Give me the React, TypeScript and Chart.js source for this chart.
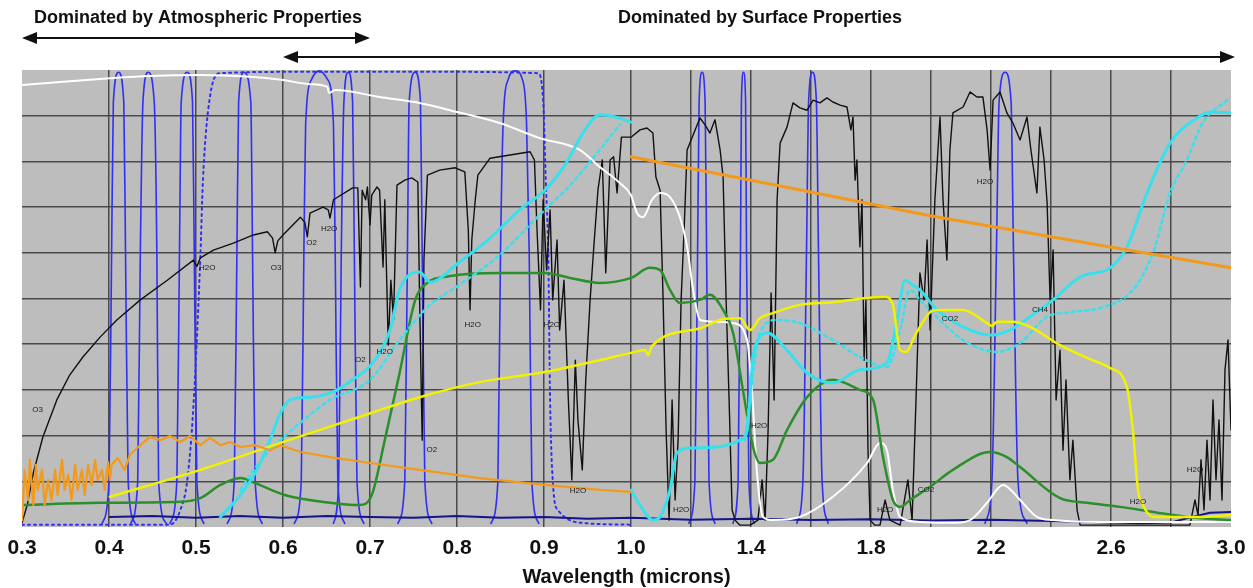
import React, { useEffect, useRef } from "react";
import { Chart, registerables } from "chart.js";
Chart.register(...registerables);

type P = [number, number];

// ---- axis definitions (wavelength, microns) ----
const gridWavelengths = [0.3, 0.4, 0.5, 0.6, 0.7, 0.8, 0.9, 1.0, 1.2, 1.4, 1.6, 1.8, 2.0, 2.2, 2.4, 2.6, 2.8, 3.0];
const labelWavelengths = [0.3, 0.4, 0.5, 0.6, 0.7, 0.8, 0.9, 1.0, 1.4, 1.8, 2.2, 2.6, 3.0];
const yGridValues = [0, 10, 20, 30, 40, 50, 60, 70, 80, 90, 100];
const xTitle = "Wavelength (microns)";
const topLabels = ["Dominated by Atmospheric Properties", "Dominated by Surface Properties"];
const topRanges: P[] = [[0.3, 0.7], [0.6, 3.0]];

// ---- series (wavelength, relative value 0-100) ----
const whiteCurve: P[] = [[0.300,96.7],[0.344,97.4],[0.401,98.2],[0.447,98.7],[0.505,98.9],[0.562,98.5],[0.600,97.8],[0.631,96.9],[0.651,96.3],[0.653,95.0],[0.660,95.6],[0.711,94.1],[0.757,92.8],[0.792,91.2],[0.849,88.4],[0.895,85.1],[0.941,82.5],[0.964,78.8],[0.987,75.3],[1.0,72.6],[1.020,68.7],[1.040,67.8],[1.070,71.6],[1.097,73.1],[1.130,72.2],[1.163,67.8],[1.187,61.3],[1.207,51.9],[1.230,45.3],[1.287,44.9],[1.340,44.6],[1.387,40.9],[1.403,30.0],[1.420,11.8],[1.440,2.2],[1.473,1.5],[1.563,2.2],[1.673,6.6],[1.787,14.0],[1.830,18.4],[1.853,16.8],[1.873,8.1],[1.897,2.2],[1.963,1.1],[2.073,0.9],[2.130,1.5],[2.187,5.3],[2.240,9.2],[2.297,5.9],[2.353,2.2],[2.407,1.5],[2.563,1.1],[3.0,1.1]];

const yellowCurve: P[] = [[0.401,6.6],[0.505,12.5],[0.597,18.4],[0.677,23.4],[0.757,28.4],[0.826,31.7],[0.901,33.9],[0.964,36.5],[1.0,38.1],[1.047,38.7],[1.057,37.6],[1.070,39.6],[1.230,43.5],[1.307,45.5],[1.363,45.7],[1.397,43.1],[1.430,45.7],[1.473,46.8],[1.563,48.6],[1.673,49.2],[1.787,50.1],[1.847,50.3],[1.873,48.6],[1.897,38.7],[1.917,38.3],[1.947,42.0],[1.997,47.0],[2.020,47.5],[2.107,47.5],[2.187,44.6],[2.203,44.0],[2.220,44.9],[2.273,44.9],[2.330,43.8],[2.430,39.8],[2.520,37.0],[2.597,34.8],[2.653,30.6],[2.673,21.2],[2.690,8.1],[2.703,5.3],[2.740,2.2],[2.807,2.2],[2.907,2.2],[2.997,2.6]];

const greenCurve: P[] = [[0.300,4.8],[0.390,5.3],[0.482,5.5],[0.505,6.3],[0.528,9.2],[0.551,10.7],[0.568,9.6],[0.602,7.0],[0.654,5.3],[0.688,4.8],[0.702,7.0],[0.717,19.0],[0.734,33.7],[0.752,49.7],[0.763,53.0],[0.792,54.9],[0.849,55.6],[0.901,55.6],[0.930,54.5],[0.964,53.4],[1.0,54.5],[1.063,56.7],[1.097,56.2],[1.130,51.9],[1.163,49.0],[1.230,49.7],[1.263,50.8],[1.307,47.5],[1.340,42.5],[1.373,30.0],[1.407,17.5],[1.430,14.0],[1.473,14.7],[1.520,21.2],[1.587,28.4],[1.673,32.2],[1.763,30.0],[1.807,27.8],[1.840,15.3],[1.873,5.9],[1.897,4.4],[1.930,5.9],[1.997,8.8],[2.073,12.5],[2.197,16.4],[2.253,15.3],[2.297,13.1],[2.430,6.3],[2.520,5.3],[2.630,4.4],[2.740,3.3],[2.853,2.2],[2.997,1.5]];

const cyanVis: P[] = [[0.528,2.2],[0.551,7.0],[0.570,12.5],[0.585,19.0],[0.597,24.9],[0.608,27.8],[0.631,28.4],[0.657,29.5],[0.680,32.2],[0.703,35.9],[0.723,43.1],[0.734,51.9],[0.757,55.8],[0.769,53.6],[0.803,58.0],[0.838,63.2],[0.872,69.4],[0.901,73.7],[0.924,79.2],[0.947,86.9],[0.964,90.2],[0.982,89.7],[1.0,88.6]];
const cyanIR: P[] = [[1.0,8.1],[1.030,4.8],[1.073,1.5],[1.097,2.2],[1.130,8.1],[1.153,16.2],[1.197,17.3],[1.287,17.5],[1.363,19.0],[1.387,21.2],[1.407,37.2],[1.430,41.6],[1.453,42.5],[1.520,38.7],[1.587,33.7],[1.673,31.5],[1.763,34.4],[1.853,35.9],[1.887,45.3],[1.913,54.0],[1.937,53.0],[1.963,51.9],[2.020,47.5],[2.107,43.8],[2.197,42.0],[2.263,43.1],[2.330,46.0],[2.407,49.7],[2.497,54.7],[2.597,56.7],[2.653,61.3],[2.720,73.1],[2.797,84.0],[2.887,89.5],[2.930,90.8],[3.0,90.6]];
const cyanDotVis: P[] = [[0.551,8.1],[0.568,12.9],[0.591,17.9],[0.620,22.8],[0.654,27.8],[0.700,32.2],[0.734,40.9],[0.769,48.6],[0.803,53.0],[0.849,59.5],[0.895,68.3],[0.930,74.8],[0.964,82.5],[0.987,88.0]];
const cyanDotIR: P[] = [[1.380,19.0],[1.407,33.7],[1.430,42.5],[1.487,45.3],[1.563,44.6],[1.673,40.9],[1.763,37.2],[1.853,35.0],[1.897,43.1],[1.930,51.9],[1.963,49.7],[2.107,40.9],[2.220,38.3],[2.297,40.3],[2.387,46.0],[2.463,47.0],[2.573,48.1],[2.673,51.9],[2.740,60.0],[2.797,73.1],[2.853,80.3],[2.907,88.6],[2.987,93.4]];

const orangeVis: P[] = [[0.300,1.5],[0.303,12.5],[0.307,5.9],[0.309,14.7],[0.313,4.8],[0.316,13.6],[0.318,8.1],[0.323,12.5],[0.326,4.8],[0.330,10.3],[0.334,5.9],[0.338,12.5],[0.341,7.0],[0.346,14.7],[0.349,8.1],[0.353,11.4],[0.357,5.9],[0.361,13.6],[0.364,8.1],[0.369,12.5],[0.372,7.0],[0.376,13.6],[0.380,9.2],[0.384,14.7],[0.387,10.3],[0.392,12.5],[0.395,8.1],[0.399,14.2],[0.401,10.3],[0.403,13.6],[0.410,15.1],[0.418,12.5],[0.424,15.8],[0.436,17.9],[0.447,19.7],[0.459,19.0],[0.470,19.9],[0.482,18.6],[0.493,19.9],[0.505,17.9],[0.516,19.5],[0.528,17.9],[0.539,18.6],[0.551,17.5],[0.568,17.9],[0.585,16.8],[0.597,17.9],[0.620,16.4],[0.654,15.3],[0.700,14.0],[0.757,12.5],[0.826,10.7],[0.901,9.2],[0.964,8.1],[1.0,7.7]];
const orangeIR: P[] = [[1.0,81.0],[1.497,74.6],[1.997,68.1],[2.497,62.4],[3.0,56.7]];

const navyCurve: P[] = [[0.401,2.2],[0.45,2.4],[0.5,2.0],[0.55,2.4],[0.6,2.0],[0.65,2.4],[0.7,2.2],[0.75,2.0],[0.8,2.4],[0.85,2.0],[0.9,2.2],[0.95,1.8],[1.0,2.0],[1.2,1.6],[1.4,1.8],[1.6,1.5],[1.8,1.7],[2.0,1.4],[2.2,1.6],[2.4,1.3],[2.6,1.0],[2.7,0.8],[2.8,1.0],[2.87,2.2],[2.93,3.1],[3.0,3.3]];

const blackCurve: P[] = [[0.300,0.9],[0.306,4.8],[0.313,11.8],[0.324,19.7],[0.340,27.8],[0.355,33.3],[0.370,37.2],[0.390,41.6],[0.409,45.3],[0.436,49.7],[0.467,54.0],[0.497,58.4],[0.501,57.0],[0.505,58.9],[0.520,60.6],[0.543,62.1],[0.566,63.9],[0.582,64.6],[0.588,63.2],[0.591,60.0],[0.594,62.6],[0.600,63.9],[0.620,67.8],[0.625,66.7],[0.628,63.5],[0.631,68.7],[0.646,70.0],[0.652,69.4],[0.654,67.6],[0.658,71.6],[0.680,74.2],[0.686,74.2],[0.689,52.5],[0.691,73.7],[0.695,71.6],[0.697,74.4],[0.700,66.1],[0.702,72.6],[0.708,74.4],[0.711,73.7],[0.715,56.9],[0.717,71.6],[0.721,39.8],[0.724,54.0],[0.727,45.3],[0.731,74.8],[0.740,75.9],[0.748,76.4],[0.755,75.5],[0.757,49.7],[0.760,19.0],[0.762,58.4],[0.766,77.0],[0.780,78.1],[0.798,78.6],[0.809,77.7],[0.813,65.0],[0.815,47.5],[0.817,62.8],[0.821,71.6],[0.824,77.0],[0.838,80.7],[0.861,81.4],[0.884,82.1],[0.889,80.3],[0.892,65.0],[0.896,47.5],[0.899,71.6],[0.903,56.2],[0.907,69.4],[0.910,49.7],[0.915,62.8],[0.918,43.1],[0.923,54.0],[0.928,27.8],[0.932,10.3],[0.936,36.5],[0.939,23.4],[0.944,12.5],[0.948,32.2],[0.953,49.7],[0.957,60.6],[0.962,73.7],[0.967,80.3],[0.971,55.6],[0.976,80.3],[0.980,81.0],[0.984,73.1],[0.989,85.3],[1.0,85.3],[1.030,86.9],[1.053,87.3],[1.073,86.2],[1.083,76.6],[1.097,73.7],[1.107,49.7],[1.117,21.2],[1.127,1.5],[1.137,27.8],[1.147,5.9],[1.157,19.0],[1.167,49.7],[1.177,65.0],[1.187,82.5],[1.207,85.8],[1.230,89.5],[1.247,88.0],[1.263,86.2],[1.280,89.1],[1.297,82.5],[1.307,76.6],[1.317,49.7],[1.327,27.8],[1.337,3.7],[1.347,1.5],[1.363,0.4],[1.397,0.4],[1.423,1.5],[1.437,10.3],[1.447,1.5],[1.457,21.2],[1.467,51.2],[1.477,27.8],[1.487,71.6],[1.497,84.0],[1.520,87.5],[1.540,92.8],[1.563,91.7],[1.587,91.2],[1.607,93.4],[1.630,92.8],[1.653,93.9],[1.673,93.0],[1.697,92.3],[1.720,91.9],[1.733,86.9],[1.740,89.7],[1.747,75.9],[1.753,80.3],[1.763,61.3],[1.770,71.6],[1.777,36.5],[1.783,49.7],[1.790,16.8],[1.797,1.5],[1.813,0.4],[1.830,0.4],[1.847,5.9],[1.863,1.5],[1.897,0.4],[1.923,10.3],[1.937,1.5],[1.950,27.8],[1.963,55.6],[1.977,49.7],[1.987,62.8],[1.997,43.1],[2.013,71.6],[2.030,89.7],[2.040,71.6],[2.053,58.4],[2.063,82.5],[2.073,90.6],[2.107,91.9],[2.130,95.2],[2.153,94.1],[2.173,94.1],[2.187,86.9],[2.197,78.1],[2.207,93.4],[2.230,95.2],[2.253,90.6],[2.273,88.4],[2.297,84.7],[2.320,89.7],[2.333,82.5],[2.353,73.1],[2.363,87.5],[2.377,80.3],[2.387,70.9],[2.397,49.7],[2.407,60.6],[2.417,27.8],[2.430,38.7],[2.440,16.8],[2.450,32.2],[2.463,10.3],[2.473,19.0],[2.487,3.7],[2.497,0.4],[2.863,0.4],[2.880,5.9],[2.890,2.6],[2.900,14.7],[2.910,3.7],[2.920,19.0],[2.930,5.9],[2.940,27.8],[2.950,10.3],[2.960,23.4],[2.970,5.9],[2.980,34.4],[2.990,40.9],[3.0,21.2]];

// ---- blue sensor passbands ----
const bandShape = [0.8, 10, 60, 93, 99.5, 93, 60, 10, 0.8];
const wideBandShape = [0.8, 10, 60, 88, 98, 99.8, 98, 88, 60, 10, 0.8];
const bandA = [0.392, 0.400, 0.403, 0.405, 0.411, 0.417, 0.419, 0.422, 0.430];
const bandB = [0.425, 0.433, 0.436, 0.439, 0.445, 0.452, 0.455, 0.457, 0.466];
const bandC = [0.470, 0.478, 0.481, 0.483, 0.490, 0.496, 0.498, 0.501, 0.509];
const bandE = [0.536, 0.544, 0.547, 0.549, 0.555, 0.563, 0.565, 0.568, 0.576];
const bandF = [0.613, 0.621, 0.624, 0.626, 0.633, 0.642, 0.651, 0.658, 0.660, 0.663, 0.671];
const bandG = [0.658, 0.664, 0.667, 0.670, 0.675, 0.680, 0.682, 0.685, 0.693];
const bandH = [0.732, 0.740, 0.743, 0.745, 0.752, 0.758, 0.760, 0.763, 0.771];
const bandI = [0.839, 0.847, 0.850, 0.853, 0.859, 0.867, 0.875, 0.880, 0.883, 0.886, 0.894];
const bandJ = [1.193, 1.213, 1.222, 1.227, 1.237, 1.247, 1.252, 1.260, 1.280];
const bandK = [1.340, 1.357, 1.365, 1.368, 1.375, 1.382, 1.385, 1.393, 1.410];
const bandL = [1.553, 1.573, 1.585, 1.592, 1.605, 1.618, 1.625, 1.637, 1.657];
const bandM = [2.180, 2.203, 2.218, 2.227, 2.247, 2.267, 2.275, 2.290, 2.320];
const panBand: P[] = [[0.300,0.5],[0.470,0.5],[0.482,3.7],[0.490,10.3],[0.497,26.3],[0.505,59.1],[0.508,75.9],[0.516,94.1],[0.528,99.3],[0.620,99.6],[0.792,99.6],[0.893,99.3],[0.899,93.4],[0.902,75.9],[0.905,58.4],[0.907,27.8],[0.910,10.3],[0.916,3.7],[0.950,0.8],[1.0,0.5]];

// ---- gas absorption labels ----
const gasLabels = ["O3","H2O","O3","O2","H2O","O2","H2O","O2","H2O","H2O","H2O","H2O","H2O","H2O","H2O","CO2","CH4","CO2","H2O","H2O"];
const gasWl = [0.318,0.513,0.592,0.633,0.653,0.689,0.717,0.771,0.818,0.909,0.939,1.167,1.427,1.847,2.180,2.063,2.363,1.983,2.690,2.880];
const gasVal = [25.6,56.7,56.7,62.1,65.2,36.5,38.3,16.8,44.2,44.2,7.9,3.7,22.1,3.7,75.5,45.5,47.5,8.1,5.5,12.5];

// piecewise wavelength axis: 0.3-1.0 expanded, 1.0-3.0 compressed
const toPos = (w: number) => (w <= 1 ? (w - 0.3) * 870 : 609 + (w - 1) * 300);
const fromPos = (u: number) => (u <= 609 ? 0.3 + u / 870 : 1 + (u - 609) / 300);

const FONT = "'Liberation Sans', Arial, sans-serif";

const pts = (d: P[]) => d.map(([w, v]) => ({ x: toPos(w), y: v }));
const band = (ws: number[], shape: number[]) => ws.map((w, i) => ({ x: toPos(w), y: shape[i] }));

const lineDs = (label: string, data: any[], color: string, width: number, order: number, extra: any = {}) => ({
  label,
  data,
  borderColor: color,
  borderWidth: width,
  pointRadius: 0,
  fill: false,
  order,
  ...extra,
});

const bgPlugin = {
  id: "bg",
  beforeDraw(chart: any) {
    const { ctx, chartArea } = chart;
    ctx.save();
    ctx.fillStyle = "#bdbdbd";
    ctx.fillRect(chartArea.left, chartArea.top, chartArea.right - chartArea.left, chartArea.bottom - chartArea.top);
    ctx.restore();
  },
};

const annotPlugin = {
  id: "annot",
  afterDraw(chart: any) {
    const { ctx, chartArea } = chart;
    const xs = chart.scales.x;
    const ys = chart.scales.y;
    ctx.save();
    // gas labels
    ctx.fillStyle = "#1c1c1c";
    ctx.font = `8px ${FONT}`;
    ctx.textAlign = "center";
    ctx.textBaseline = "middle";
    gasLabels.forEach((t, i) => {
      ctx.fillText(t, xs.getPixelForValue(toPos(gasWl[i])), ys.getPixelForValue(gasVal[i]));
    });
    // top arrows and headings
    const top = chartArea.top;
    const arrowY = [top - 32, top - 13];
    const extend = [0, 4];
    ctx.strokeStyle = "#111";
    ctx.fillStyle = "#111";
    ctx.lineWidth = 2;
    topRanges.forEach(([a, b], i) => {
      const x1 = xs.getPixelForValue(toPos(a));
      const x2 = xs.getPixelForValue(toPos(b)) + extend[i];
      const y = arrowY[i];
      ctx.beginPath();
      ctx.moveTo(x1 + 8, y);
      ctx.lineTo(x2 - 8, y);
      ctx.stroke();
      ctx.beginPath();
      ctx.moveTo(x1, y);
      ctx.lineTo(x1 + 15, y - 6);
      ctx.lineTo(x1 + 15, y + 6);
      ctx.closePath();
      ctx.fill();
      ctx.beginPath();
      ctx.moveTo(x2, y);
      ctx.lineTo(x2 - 15, y - 6);
      ctx.lineTo(x2 - 15, y + 6);
      ctx.closePath();
      ctx.fill();
    });
    ctx.font = `bold 18px ${FONT}`;
    ctx.textAlign = "center";
    ctx.textBaseline = "middle";
    const centers = [
      (xs.getPixelForValue(toPos(topRanges[0][0])) + xs.getPixelForValue(toPos(topRanges[0][1]))) / 2 + 2,
      (xs.getPixelForValue(toPos(topRanges[1][0])) + xs.getPixelForValue(toPos(topRanges[1][1]))) / 2 + 3,
    ];
    topLabels.forEach((t, i) => ctx.fillText(t, centers[i], top - 52));
    ctx.restore();
  },
};

export default function App() {
  const ref = useRef<HTMLCanvasElement | null>(null);
  useEffect(() => {
    if (!ref.current) return;
    const BLUE = "#3030f2";
    const mono = { cubicInterpolationMode: "monotone" };
    const bandDs = (name: string, ws: number[], shape: number[]) =>
      lineDs(name, band(ws, shape), BLUE, 1.6, 9, mono);
    const chart = new Chart(ref.current, {
      type: "line",
      data: {
        datasets: [
          lineDs("orangeVis", pts(orangeVis), "#f39a1c", 2.2, 0),
          lineDs("orangeIR", pts(orangeIR), "#f39a1c", 3, 0),
          lineDs("yellow", pts(yellowCurve), "#f2f200", 2.5, 1, mono),
          lineDs("cyanVis", pts(cyanVis), "#38e0ee", 3, 2, mono),
          lineDs("cyanIR", pts(cyanIR), "#38e0ee", 3, 2, mono),
          lineDs("cyanDotVis", pts(cyanDotVis), "#38e0ee", 2.5, 3, { ...mono, borderDash: [3, 4] }),
          lineDs("cyanDotIR", pts(cyanDotIR), "#38e0ee", 2.5, 3, { ...mono, borderDash: [3, 4] }),
          lineDs("green", pts(greenCurve), "#2b8f2b", 2.5, 4, mono),
          lineDs("white", pts(whiteCurve), "#ffffff", 2, 5, mono),
          lineDs("black", pts(blackCurve), "#111111", 1.4, 6),
          lineDs("navy", pts(navyCurve), "#14148c", 2, 7),
          lineDs("pan", pts(panBand), BLUE, 2, 8, { ...mono, borderDash: [2, 4] }),
          bandDs("A", bandA, bandShape),
          bandDs("B", bandB, bandShape),
          bandDs("C", bandC, bandShape),
          bandDs("E", bandE, bandShape),
          bandDs("F", bandF, wideBandShape),
          bandDs("G", bandG, bandShape),
          bandDs("H", bandH, bandShape),
          bandDs("I", bandI, wideBandShape),
          bandDs("J", bandJ, bandShape),
          bandDs("K", bandK, bandShape),
          bandDs("L", bandL, bandShape),
          bandDs("M", bandM, bandShape),
        ] as any,
      },
      options: {
        responsive: false,
        animation: false,
        devicePixelRatio: 1,
        layout: { padding: { left: 22, right: 22, top: 70, bottom: 0 } },
        plugins: { legend: { display: false }, tooltip: { enabled: false } },
        elements: { line: { borderCapStyle: "round", borderJoinStyle: "round" } },
        scales: {
          x: {
            type: "linear",
            min: 0,
            max: toPos(3.0),
            afterBuildTicks: (scale: any) => {
              scale.ticks = gridWavelengths.map((w) => ({ value: toPos(w) }));
            },
            ticks: {
              autoSkip: false,
              maxRotation: 0,
              minRotation: 0,
              padding: 6,
              color: "#111",
              font: { family: FONT, size: 21, weight: "bold", lineHeight: 1.43 },
              callback: (value: any) => {
                const w = fromPos(Number(value));
                const hit = labelWavelengths.find((l) => Math.abs(l - w) < 1e-6);
                return hit !== undefined ? hit.toFixed(1) : "";
              },
            },
            grid: {
              drawTicks: false,
              lineWidth: 1.5,
              color: (c: any) =>
                c.index === 0 || c.index === gridWavelengths.length - 1 ? "rgba(0,0,0,0)" : "#4a4a4a",
            },
            border: { display: false },
            title: {
              display: true,
              text: xTitle,
              color: "#111",
              font: { family: FONT, size: 20, weight: "bold", lineHeight: 1.0 },
              padding: { top: -2, bottom: 1 },
            },
          },
          y: {
            type: "linear",
            min: 0,
            max: 100,
            afterBuildTicks: (scale: any) => {
              scale.ticks = yGridValues.map((v) => ({ value: v }));
            },
            ticks: { display: false },
            grid: {
              drawTicks: false,
              lineWidth: 1.5,
              color: (c: any) =>
                c.index === 0 || c.index === yGridValues.length - 1 ? "rgba(0,0,0,0)" : "#4a4a4a",
            },
            border: { display: false },
          },
        },
      } as any,
      plugins: [bgPlugin, annotPlugin],
    });
    return () => chart.destroy();
  }, []);
  return (
    <div style={{ position: "absolute", left: 0, top: 0, width: 1253, height: 588, background: "#fff" }}>
      <canvas ref={ref} width={1253} height={588} style={{ display: "block" }} />
    </div>
  );
}
